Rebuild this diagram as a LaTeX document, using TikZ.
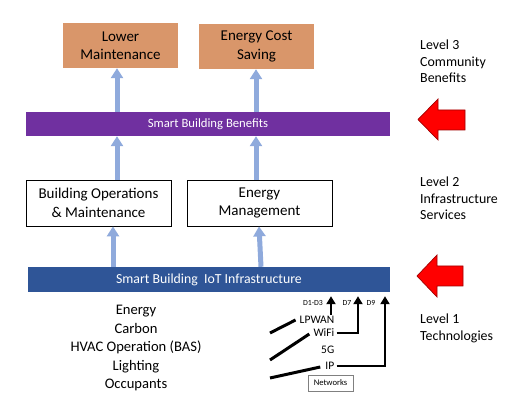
\documentclass[tikz,border=0pt]{standalone}
\usepackage{fontspec}
\setmainfont{Carlito}
\usetikzlibrary{arrows.meta,calc}
\definecolor{orangebox}{HTML}{D9966A}
\definecolor{purplebar}{HTML}{7030A0}
\definecolor{bluebar}{HTML}{2F5597}
\definecolor{lightblue}{HTML}{8FAADC}
\definecolor{redarrow}{HTML}{FF0000}
\definecolor{redline}{HTML}{A00000}
\tikzset{
  benefit/.style={fill=orangebox, draw=none, minimum width=115pt, minimum height=45pt, align=center, font=\fontsize{15}{18.5}\selectfont, inner sep=0pt},
  service/.style={draw=black, line width=0.8pt, fill=white, minimum width=145pt, minimum height=46pt, align=center, font=\fontsize{15}{18.5}\selectfont, inner sep=0pt},
  bar/.style={draw=none, minimum height=24pt, text=white, inner sep=0pt},
  upar/.style={draw=lightblue, line width=5pt, -{Triangle[width=12pt,length=10pt]}},
  level/.style={align=left, anchor=north west, font=\fontsize{13.9}{16.5}\selectfont, inner sep=0pt},
  netlbl/.style={anchor=east, font=\fontsize{11.5}{13}\selectfont, inner sep=0pt},
  dlbl/.style={font=\fontsize{7.8}{9}\selectfont, inner sep=0pt},
  netline/.style={line width=3pt, black},
  netar/.style={line width=2.5pt, black, -{Triangle[width=9pt,length=8pt]}},
  bigred/.style={fill=redarrow, draw=redline, line width=0.7pt},
}
\begin{document}
\begin{tikzpicture}[x=1pt,y=-1pt]
\useasboundingbox (0,0) rectangle (520,419);
% Level 3
\node[benefit] (lm) at (120.5,45.5) {Lower\\Maintenance};
\node[benefit] (ecs) at (256.5,46.5) {Energy Cost\\Saving};
\node[bar, fill=purplebar, minimum width=364pt, font=\fontsize{12.7}{14}\selectfont] (sbb) at (208,124) {Smart Building Benefits};
% Level 2
\node[service] (bom) at (98.5,203) {Building Operations\\\& Maintenance};
\node[service] (em) at (259.5,203) {Energy\\Management};
\node[bar, fill=bluebar, minimum width=362pt, minimum height=25pt, font=\fontsize{13.8}{15}\selectfont] (iot) at (209,279.5) {Smart Building\ \ IoT Infrastructure};
% blue arrows
\draw[upar] (sbb.north -| 117,0) -- (lm.south -| 117,0);
\draw[upar] (sbb.north -| 256,0) -- (ecs.south -| 256,0);
\draw[upar] (bom.north -| 117,0) -- (sbb.south -| 117,0);
\draw[upar] (em.north -| 256,0) -- (sbb.south -| 256,0);
\draw[upar] (iot.north -| 113,0) -- (bom.south -| 113,0);
\draw[upar] ($(iot.north -| 260,0)+(1,0)$) -- ($(em.south -| 260,0)+(-1,0)$);
% level texts
\node[level] (l3) at (420,40) {Level 3\\Community\\Benefits};
\node[level] (l2) at (420,177) {Level 2\\Infrastructure\\Services};
\node[level] (l1) at (420,314) {Level 1\\Technologies};
% red arrows
\draw[bigred] (418,119.5) -- (438,99) -- (438,110) -- (465,110) -- (465,130) -- (438,130) -- (438,140) -- cycle;
\draw[bigred] (417,276) -- (437,255) -- (437,266) -- (463,266) -- (463,286) -- (437,286) -- (437,297) -- cycle;
% technologies list
\node[align=center, font=\fontsize{14.6}{18.5}\selectfont, inner sep=0pt, anchor=north] (tech) at (136,305) {Energy\\Carbon\\HVAC Operation (BAS)\\Lighting\\Occupants};
% networks
\node[netlbl] (lpwan) at (334.5,320) {LPWAN};
\node[netlbl] (wifi) at (334.5,333) {WiFi};
\node[netlbl] (fiveg) at (334.5,350) {5G};
\node[netlbl] (ip) at (334.5,366) {IP};
\node[draw=gray, line width=0.5pt, minimum width=45pt, minimum height=16pt, inner sep=0pt, font=\fontsize{8.6}{10}\selectfont] (nets) at (330.5,383) {Networks};
\node[dlbl] (d1) at (313,303) {D1-D3};
\node[dlbl] (d7) at (347,303) {D7};
\node[dlbl] (d9) at (371,303) {D9};
\coordinate (s1) at (270,333);
\coordinate (s2) at (270,360);
\coordinate (s3) at (270,378);
\draw[netline] (s1) -- ($(lpwan.west)+(-4,0)$);
\draw[netline] (s2) -- ($(wifi.west)+(-4,1)$);
\draw[netline] (s3) -- ($(ip.west)+(-5,1)$);
\draw[netar] ($(lpwan.north east)+(-3.5,-1)$) -- ($(iot.south -| 331,0)+(0,4)$);
\draw[netar] ($(wifi.east)+(2,0)$) -| ($(iot.south -| 358,0)+(0,4)$);
\draw[netar] ($(ip.east)+(2,0)$) -| ($(iot.south -| 385,0)+(0,4)$);
\end{tikzpicture}
\end{document}
